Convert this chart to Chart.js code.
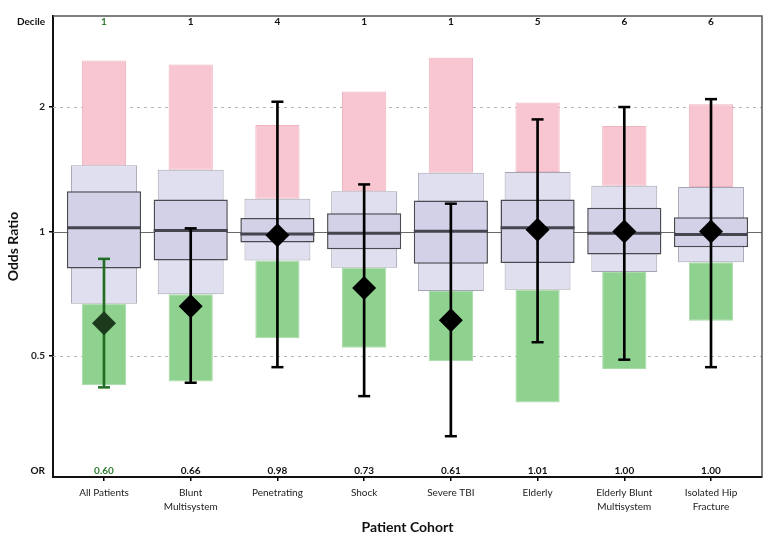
<!DOCTYPE html>
<html>
<head>
<meta charset="utf-8">
<script src="https://cdn.jsdelivr.net/npm/chart.js@4.4.0/dist/chart.umd.min.js"></script>
<style>
  html, body { margin: 0; padding: 0; background: #fff; }
  #contenedor { width: 768px; height: 544px; }
</style>
</head>
<body>
<div id="contenedor"><canvas id="miGrafico" width="768" height="544"></canvas></div>
<script>
// Datos
const cohortes = [['All Patients'], ['Blunt', 'Multisystem'], ['Penetrating'], ['Shock'],
  ['Severe TBI'], ['Elderly'], ['Elderly Blunt', 'Multisystem'], ['Isolated Hip', 'Fracture']];
const deciles = [1, 1, 4, 1, 1, 5, 6, 6];
const oddsRatio = [0.60, 0.66, 0.98, 0.73, 0.61, 1.01, 1.00, 1.00];
const ciBajo = [0.42, 0.431, 0.47, 0.40, 0.32, 0.54, 0.49, 0.47];
const ciAlto = [0.859, 1.018, 2.06, 1.30, 1.168, 1.867, 2.00, 2.09];

// Distribucion de referencia (min, p10, p25, mediana, p75, p90, max)
const minimo = [0.425, 0.434, 0.552, 0.524, 0.486, 0.386, 0.465, 0.609];
const p10 = [0.669, 0.705, 0.851, 0.817, 0.718, 0.723, 0.798, 0.843];
const p25 = [0.814, 0.851, 0.941, 0.906, 0.836, 0.839, 0.880, 0.916];
const mediana = [1.022, 1.006, 0.987, 0.991, 1.002, 1.022, 0.991, 0.983];
const p75 = [1.251, 1.195, 1.079, 1.107, 1.188, 1.195, 1.141, 1.083];
const p90 = [1.446, 1.411, 1.20, 1.251, 1.388, 1.394, 1.291, 1.282];
const maximo = [2.59, 2.535, 1.81, 2.18, 2.63, 2.05, 1.80, 2.03];

const ticksY = [0.5, 1, 2];

Chart.defaults.font.family = 'Lato';

// Colores: la primera cohorte va en verde
function colorLinea(i) { return i === 0 ? '#216e21' : '#000000'; }
function colorDiamante(i) { return i === 0 ? '#1b3a1b' : '#000000'; }

function puntos(valores) {
  return valores.map(function (v, i) { return { x: i, y: v }; });
}
function rangos(bajo, alto) {
  return bajo.map(function (v, i) { return { x: i, y: [v, alto[i]] }; });
}

const marcoYTextos = {
  id: 'marcoYTextos',
  beforeDatasetsDraw(chart) {
    const { ctx, chartArea: a, scales: { y } } = chart;
    ctx.save();
    ticksY.forEach(function (v) {
      const py = Math.round(y.getPixelForValue(v)) + 0.5;
      ctx.beginPath();
      if (v === 1) {
        ctx.setLineDash([]);
        ctx.strokeStyle = '#6a6a6a';
        ctx.lineWidth = 1.2;
      } else {
        ctx.setLineDash([3, 4]);
        ctx.strokeStyle = '#b4b4b4';
        ctx.lineWidth = 1;
      }
      ctx.moveTo(a.left, py);
      ctx.lineTo(a.right, py);
      ctx.stroke();
    });
    ctx.restore();
  },
  afterDraw(chart) {
    const { ctx, chartArea: a, scales: { x } } = chart;
    ctx.save();
    // marco de arriba y derecha
    ctx.strokeStyle = '#555';
    ctx.lineWidth = 1.5;
    ctx.beginPath();
    ctx.moveTo(a.left, a.top);
    ctx.lineTo(a.right, a.top);
    ctx.lineTo(a.right, a.bottom);
    ctx.stroke();

    ctx.font = 'bold 10px Lato';
    ctx.textBaseline = 'middle';
    ctx.fillStyle = '#111';
    ctx.textAlign = 'right';
    ctx.fillText('Decile', a.left - 8, a.top + 6);
    ctx.fillText('OR', a.left - 8, a.bottom - 6);

    ctx.textAlign = 'center';
    deciles.forEach(function (d, i) {
      const px = x.getPixelForValue(i);
      ctx.fillStyle = i === 0 ? '#2e7d32' : '#111';
      ctx.fillText(String(d), px, a.top + 6);
      ctx.fillText(oddsRatio[i].toFixed(2), px, a.bottom - 6);
    });
    ctx.restore();
  }
};

const ctx = document.getElementById('miGrafico').getContext('2d');

new Chart(ctx, {
  type: 'bar',
  data: {
    datasets: [
      {
        type: 'scatter',
        data: puntos(oddsRatio),
        pointStyle: 'rectRot',
        radius: 12,
        borderWidth: 0,
        backgroundColor: function (c) { return colorDiamante(c.dataIndex); }
      },
      {
        type: 'scatter',
        data: puntos(ciBajo).concat(puntos(ciAlto)),
        pointStyle: 'line',
        radius: 6,
        borderWidth: 2.5,
        borderColor: function (c) { return colorLinea(c.raw ? c.raw.x : 1); }
      },
      {
        data: rangos(ciBajo, ciAlto),
        barThickness: 2,
        grouped: false,
        backgroundColor: function (c) { return colorLinea(c.dataIndex); }
      },
      {
        type: 'scatter',
        data: puntos(mediana),
        pointStyle: 'line',
        radius: 37,
        borderWidth: 3,
        borderColor: '#45454f'
      },
      {
        data: rangos(p25, p75),
        grouped: false,
        categoryPercentage: 1,
        barPercentage: 0.855,
        backgroundColor: '#d2d1e7',
        borderColor: '#4a4a52',
        borderWidth: 1.5,
        borderSkipped: false
      },
      {
        data: rangos(p10, p90),
        grouped: false,
        categoryPercentage: 1,
        barPercentage: 0.76,
        backgroundColor: '#dfdfef',
        borderColor: '#a5a5b2',
        borderWidth: 1,
        borderSkipped: false
      },
      {
        data: rangos(minimo, p10),
        grouped: false,
        categoryPercentage: 1,
        barPercentage: 0.51,
        backgroundColor: '#8fd18f',
        borderColor: '#a8dca8',
        borderWidth: 1,
        borderSkipped: false
      },
      {
        data: rangos(p90, maximo),
        grouped: false,
        categoryPercentage: 1,
        barPercentage: 0.51,
        backgroundColor: '#f7c6d0',
        borderColor: '#f0b3c0',
        borderWidth: 1,
        borderSkipped: false
      }
    ]
  },
  options: {
    responsive: false,
    animation: false,
    layout: { autoPadding: false, padding: { top: 16, right: 6, left: 0, bottom: 0 } },
    plugins: {
      legend: { display: false },
      tooltip: { enabled: false }
    },
    scales: {
      x: {
        type: 'linear',
        min: -0.588,
        max: 7.588,
        bounds: 'data',
        offset: false,
        afterFit: function (s) { s.height = 67; },
        afterBuildTicks: function (s) {
          s.ticks = cohortes.map(function (c, i) { return { value: i }; });
        },
        ticks: {
          autoSkip: false,
          maxRotation: 0,
          padding: 5,
          color: '#222',
          font: { size: 10, lineHeight: 1.4 },
          callback: function (v) { return cohortes[v] || ''; }
        },
        grid: { offset: false, drawOnChartArea: false, tickLength: 4, color: '#000', lineWidth: 1.5 },
        border: { color: '#111', width: 2 },
        title: {
          display: true,
          text: 'Patient Cohort',
          color: '#111',
          font: { size: 14, weight: 'bold' },
          padding: { top: 0, bottom: 8 }
        }
      },
      y: {
        type: 'logarithmic',
        min: 0.255,
        max: 3.32,
        bounds: 'data',
        afterFit: function (s) { s.width = 53; },
        afterBuildTicks: function (s) {
          s.ticks = ticksY.map(function (v) { return { value: v }; });
        },
        ticks: {
          padding: 4,
          color: '#222',
          font: { size: 10, weight: 'bold' },
          callback: function (v) { return String(v); }
        },
        grid: { drawOnChartArea: false, tickLength: 4, color: '#000', lineWidth: 1.5 },
        border: { color: '#111', width: 2 },
        title: {
          display: true,
          text: 'Odds Ratio',
          color: '#111',
          font: { size: 14, weight: 'bold' },
          padding: { top: 5, bottom: 0 }
        }
      }
    }
  },
  plugins: [marcoYTextos]
});
</script>
</body>
</html>
